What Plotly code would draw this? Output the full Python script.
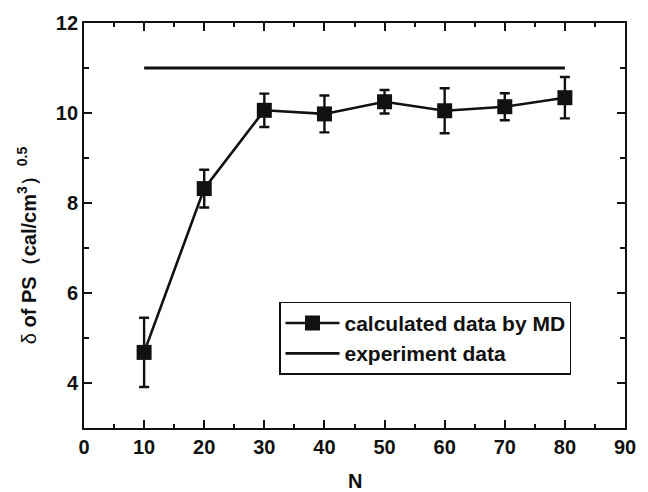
import plotly.graph_objects as go

# Solubility parameter of PS versus chain length N
n_values = [10, 20, 30, 40, 50, 60, 70, 80]
delta_md = [4.68, 8.32, 10.06, 9.98, 10.25, 10.05, 10.14, 10.34]
delta_err = [0.77, 0.42, 0.37, 0.41, 0.26, 0.50, 0.30, 0.46]

# Experimental value, drawn as a flat reference line
exp_n = [10, 80]
exp_delta = [11.0, 11.0]

x_ticks = [0, 10, 20, 30, 40, 50, 60, 70, 80, 90]
y_ticks = [4, 6, 8, 10, 12]

ink = "#111111"
font_family = "Arial, Liberation Sans, sans-serif"

fig = go.Figure()

fig.add_trace(go.Scatter(
    x=n_values, y=delta_md,
    mode="lines+markers",
    name="calculated data by MD",
    line=dict(color=ink, width=2.6),
    marker=dict(symbol="square", size=15, color=ink),
    error_y=dict(type="data", array=delta_err, visible=True,
                 color=ink, thickness=2.4, width=5),
))

fig.add_trace(go.Scatter(
    x=exp_n, y=exp_delta,
    mode="lines",
    name="experiment data",
    line=dict(color=ink, width=2.8),
))

axis_common = dict(
    showline=True, linecolor=ink, linewidth=1.8,
    mirror="ticks", ticks="inside", ticklen=8, tickwidth=1.8, tickcolor=ink,
    showgrid=False, zeroline=False,
    tickfont=dict(family=font_family, size=20, color=ink, weight="bold"),
)

fig.update_xaxes(
    range=[0, 90], tickvals=x_ticks,
    minor=dict(ticks="inside", ticklen=4, tickwidth=1.8, tickcolor=ink, dtick=5, tick0=0),
    **axis_common,
)
fig.update_yaxes(
    range=[3, 12], tickvals=y_ticks,
    minor=dict(ticks="inside", ticklen=5, tickwidth=1.8, tickcolor=ink, dtick=1, tick0=0),
    **axis_common,
)

fig.add_annotation(
    text="N", xref="paper", yref="paper", x=0.501, y=-0.13,
    xanchor="center", yanchor="middle", showarrow=False,
    font=dict(family=font_family, size=20, color=ink, weight="bold"),
)
fig.add_annotation(
    text="δ <b>of PS（cal/cm<sup>3</sup>）<sup>0.5</sup></b>",
    xref="paper", yref="paper", x=-0.105, y=0.452,
    xanchor="center", yanchor="middle", textangle=-90, showarrow=False,
    font=dict(family=font_family, size=20, color=ink),
)

fig.update_layout(
    width=648, height=492,
    margin=dict(l=84, r=13, t=21, b=64),
    paper_bgcolor="white", plot_bgcolor="white",
    showlegend=True,
    legend=dict(
        x=0.361, y=0.312, xanchor="left", yanchor="top",
        bordercolor=ink, borderwidth=1.2, bgcolor="white",
        font=dict(family=font_family, size=21, color=ink, weight="bold"),
        itemwidth=54, tracegroupgap=0,
    ),
)

fig.write_html("out.html")
